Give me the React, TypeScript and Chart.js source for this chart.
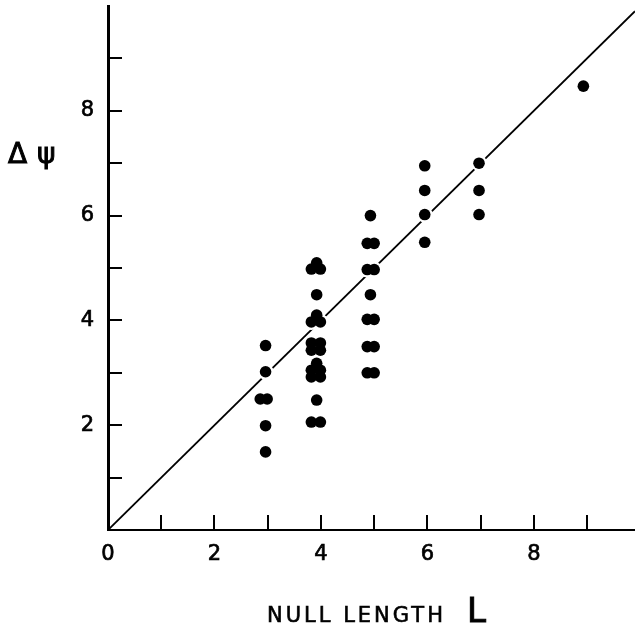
import React, { useEffect, useRef } from "react";
import { Chart, registerables } from "chart.js";

Chart.register(...registerables);

// Null length L (x) and phase difference Δψ (y) for each plotted point
const nullLength = [
  2.96, 2.96, 2.86, 2.99, 2.96, 2.96,
  3.92, 3.82, 3.99, 3.92, 3.92, 3.82, 3.99, 3.82, 3.99, 3.82, 3.99, 3.92, 3.82, 3.99, 3.82, 3.99, 3.92, 3.82, 3.99,
  4.93, 4.87, 5.0, 4.87, 5.0, 4.93, 4.87, 5.0, 4.87, 5.0, 4.87, 5.0,
  5.95, 5.95, 5.95, 5.95,
  6.97, 6.97, 6.97,
  8.93,
];
const deltaPsi = [
  3.52, 3.02, 2.5, 2.5, 1.99, 1.49,
  5.1, 4.98, 4.98, 4.49, 4.1, 3.97, 3.97, 3.57, 3.57, 3.43, 3.43, 3.18, 3.05, 3.05, 2.92, 2.92, 2.48, 2.06, 2.06,
  6.0, 5.47, 5.47, 4.97, 4.97, 4.49, 4.02, 4.02, 3.5, 3.5, 3.0, 3.0,
  6.95, 6.48, 6.02, 5.49,
  7.0, 6.48, 6.02,
  8.47,
];

// Reference line Δψ = L
const lineX = [0, 9.9];
const lineY = [0, 9.9];

const xTickValues = [1, 2, 3, 4, 5, 6, 7, 8, 9];
const yTickValues = [1, 2, 3, 4, 5, 6, 7, 8, 9];
const xLabelValues = [0, 2, 4, 6, 8];
const yLabelValues = [2, 4, 6, 8];

const xTitle = "NULL LENGTH";
const xTitleSymbol = "L";
const yTitleDelta = "Δ";
const yTitlePsi = "ψ";

const FONT = "'DejaVu Sans', sans-serif";

const decorations = {
  id: "decorations",
  afterDraw(chart: any) {
    const { ctx, chartArea, scales } = chart;
    const x = scales.x;
    const y = scales.y;
    ctx.save();
    ctx.strokeStyle = "#000";
    ctx.lineWidth = 2;
    ctx.beginPath();
    for (const v of xTickValues) {
      const px = Math.round(x.getPixelForValue(v));
      ctx.moveTo(px, chartArea.bottom);
      ctx.lineTo(px, chartArea.bottom - 15);
    }
    for (const v of yTickValues) {
      const py = Math.round(y.getPixelForValue(v));
      ctx.moveTo(chartArea.left, py);
      ctx.lineTo(chartArea.left + 14, py);
    }
    ctx.stroke();

    ctx.fillStyle = "#000";
    ctx.strokeStyle = "#000";
    ctx.textBaseline = "alphabetic";
    ctx.textAlign = "left";
    // x-axis title
    ctx.font = `21px ${FONT}`;
    ctx.lineWidth = 0.6;
    (ctx as any).letterSpacing = "3px";
    ctx.fillText(xTitle, 267, 622);
    ctx.strokeText(xTitle, 267, 622);
    (ctx as any).letterSpacing = "0px";
    ctx.font = `34px ${FONT}`;
    ctx.lineWidth = 1;
    ctx.fillText(xTitleSymbol, 467, 622);
    ctx.strokeText(xTitleSymbol, 467, 622);
    // y-axis title
    ctx.font = `28px ${FONT}`;
    ctx.lineWidth = 1;
    ctx.fillText(yTitleDelta, 8, 163);
    ctx.strokeText(yTitleDelta, 8, 163);
    ctx.fillText(yTitlePsi, 37, 163);
    ctx.strokeText(yTitlePsi, 37, 163);
    ctx.restore();
  },
};

const zeroPadding = (scale: any) => {
  scale.paddingTop = 0;
  scale.paddingBottom = 0;
  scale.paddingLeft = 0;
  scale.paddingRight = 0;
};

export default function App() {
  const canvasRef = useRef<HTMLCanvasElement | null>(null);

  useEffect(() => {
    const canvas = canvasRef.current;
    if (!canvas) return;
    const points = nullLength.map((v, i) => ({ x: v, y: deltaPsi[i] }));
    const linePts = lineX.map((v, i) => ({ x: v, y: lineY[i] }));

    const chart = new Chart(canvas, {
      type: "scatter",
      data: {
        datasets: [
          {
            label: "points",
            data: points,
            pointRadius: 5.8,
            pointBackgroundColor: "#000",
            pointBorderWidth: 0,
            pointBorderColor: "#000",
            order: 0,
          },
          {
            label: "halo",
            data: points,
            pointRadius: 8,
            pointBackgroundColor: "#fff",
            pointBorderWidth: 0,
            pointBorderColor: "#fff",
            order: 1,
          },
          {
            label: "line",
            data: linePts,
            showLine: true,
            borderColor: "#000",
            borderWidth: 1.8,
            pointRadius: 0,
            order: 2,
          } as any,
        ],
      },
      plugins: [decorations],
      options: {
        animation: false,
        responsive: false,
        devicePixelRatio: 1,
        layout: { autoPadding: false, padding: { top: 6, right: 0, left: 0, bottom: 0 } },
        plugins: {
          legend: { display: false },
          tooltip: { enabled: false },
          title: { display: false },
        },
        scales: {
          x: {
            type: "linear",
            min: 0,
            max: 9.9,
            grid: { display: false, drawTicks: false },
            border: { display: true, color: "#000", width: 2 },
            ticks: {
              stepSize: 1,
              autoSkip: false,
              maxRotation: 0,
              padding: 12,
              color: "#000",
              textStrokeColor: "#000",
              textStrokeWidth: 0.7,
              font: { family: FONT, size: 21 },
              callback: (v: any) => (xLabelValues.includes(v) ? String(v) : null),
            },
            afterFit: (scale: any) => {
              scale.height = 99;
              zeroPadding(scale);
            },
          },
          y: {
            type: "linear",
            min: 0,
            max: 10,
            grid: { display: false, drawTicks: false },
            border: { display: true, color: "#000", width: 3 },
            ticks: {
              stepSize: 1,
              autoSkip: false,
              padding: 14,
              color: "#000",
              textStrokeColor: "#000",
              textStrokeWidth: 0.7,
              font: { family: FONT, size: 21 },
              callback: (v: any) => (yLabelValues.includes(v) ? String(v) : null),
            },
            afterFit: (scale: any) => {
              scale.width = 108;
              zeroPadding(scale);
            },
          },
        },
      } as any,
    });
    return () => chart.destroy();
  }, []);

  return (
    <div style={{ position: "absolute", left: 0, top: 0, width: 635, height: 629, background: "#fff" }}>
      <canvas ref={canvasRef} width={635} height={629} style={{ display: "block" }} />
    </div>
  );
}
